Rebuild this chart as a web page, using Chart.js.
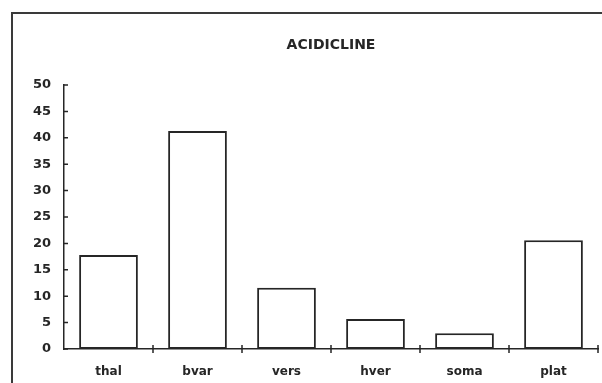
<!DOCTYPE html>
<html>
<head>
<meta charset="utf-8">
<script src="https://cdn.jsdelivr.net/npm/chart.js@4/dist/chart.umd.min.js"></script>
<style>
  html, body { margin: 0; padding: 0; background: #fff; overflow: hidden; }
  #wrap { position: relative; width: 602px; height: 383px; overflow: hidden; }
  #frameTop {
    position: absolute; left: 11px; top: 12px; width: 600px; height: 2px; background: #3a3a3a;
  }
  #frameLeft {
    position: absolute; left: 11px; top: 12px; width: 2px; height: 380px; background: #3a3a3a;
  }
  canvas { position: absolute; left: 0; top: 0; }
</style>
</head>
<body>
<div id="wrap">
  <div id="frameTop"></div>
  <div id="frameLeft"></div>
  <canvas id="c" width="602" height="383"></canvas>
</div>
<script>
// Species groups and their percentages
const categories = ['thal', 'bvar', 'vers', 'hver', 'soma', 'plat'];
const values = [17.8, 41.3, 11.6, 5.7, 3.0, 20.6];
const chartTitle = 'ACIDICLINE';
const yMin = 0;
const yMax = 50;
const yStep = 5;

const ink = '#262626';

// Small tick marks drawn inside the axes, plus the title centred over the plot
const axisMarks = {
  id: 'axisMarks',
  afterDraw(chart) {
    const { ctx, chartArea, scales } = chart;
    const x = scales.x, y = scales.y;
    ctx.save();
    ctx.strokeStyle = ink;
    ctx.lineWidth = 1.5;
    ctx.beginPath();
    y.ticks.forEach(t => {
      const py = y.getPixelForValue(t.value);
      ctx.moveTo(chartArea.left, py);
      ctx.lineTo(chartArea.left + 4, py);
    });
    for (let i = 0; i < categories.length; i++) {
      const px = x.getPixelForValue(i + 0.5);
      ctx.moveTo(px, chartArea.bottom - 4);
      ctx.lineTo(px, chartArea.bottom + 4);
    }
    ctx.stroke();

    ctx.fillStyle = ink;
    ctx.font = 'bold 14px "DejaVu Sans"';
    ctx.textAlign = 'center';
    ctx.textBaseline = 'middle';
    ctx.fillText(chartTitle, (chartArea.left + chartArea.right) / 2, 45);
    ctx.restore();
  }
};

new Chart(document.getElementById('c'), {
  type: 'bar',
  data: {
    labels: categories,
    datasets: [{
      data: values,
      backgroundColor: '#ffffff',
      borderColor: ink,
      borderWidth: 2,
      borderSkipped: false,
      barPercentage: 0.66,
      categoryPercentage: 1.0
    }]
  },
  options: {
    responsive: false,
    animation: false,
    layout: { padding: { left: 0, right: 4, top: 85, bottom: 0 } },
    plugins: {
      legend: { display: false },
      title: { display: false },
      tooltip: { enabled: false }
    },
    scales: {
      x: {
        offset: true,
        grid: { display: false, drawTicks: false },
        border: { display: true, color: ink, width: 1.5 },
        ticks: {
          color: ink,
          font: { family: 'DejaVu Sans', size: 12, weight: 'bold' },
          padding: 16,
          maxRotation: 0
        },
        afterFit(scale) { scale.height = 34; }
      },
      y: {
        min: yMin,
        max: yMax,
        grid: { display: false, drawTicks: false },
        border: { display: true, color: ink, width: 1.5 },
        ticks: {
          stepSize: yStep,
          color: ink,
          font: { family: 'DejaVu Sans', size: 13, weight: 'bold' },
          padding: 13
        },
        afterFit(scale) { scale.width = 64; }
      }
    }
  },
  plugins: [axisMarks]
});
</script>
</body>
</html>
